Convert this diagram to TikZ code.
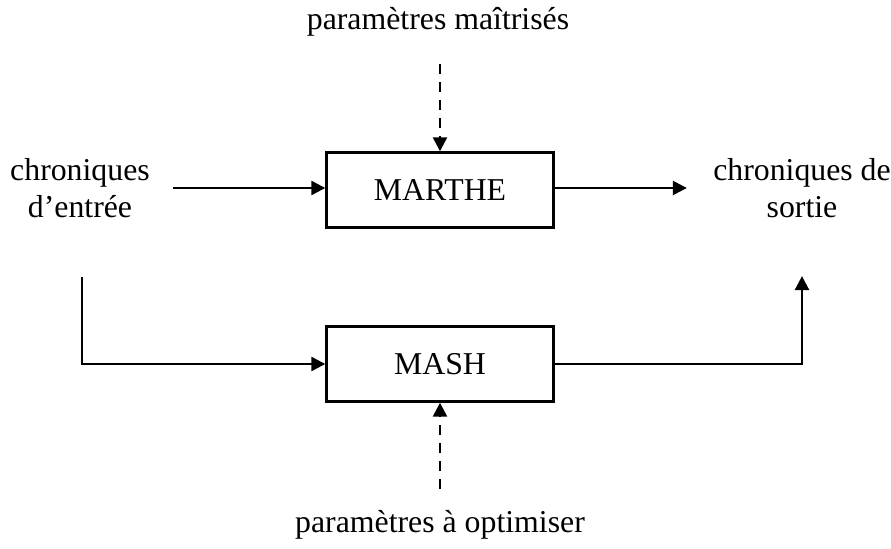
\documentclass[tikz,border=0pt]{standalone}
\usepackage{fontspec}
\setmainfont{Liberation Serif}
\usetikzlibrary{arrows.meta,positioning}

\begin{document}
\begin{tikzpicture}[
    x=0.5pt, y=-0.5pt,
    font=\fontsize{15.9}{18.5}\selectfont,
    model/.style={draw, line width=1.2pt, minimum width=113.5pt, minimum height=37.5pt, inner sep=0pt},
    txt/.style={align=center, inner sep=0pt},
    arrow/.style={-{Triangle[length=7pt,width=7pt]}, line width=1.2pt},
    dashedarrow/.style={arrow, dash pattern=on 5pt off 4pt}
]
\useasboundingbox (0,0) rectangle (891,549);

% Modeles
\node[model] (marthe) at (440,190) {MARTHE};
\node[model] (mash) at (440,364) {MASH};

% Chroniques et parametres
\node[txt] (entree) at (80,188) {chroniques\\d'entrée};
\node[txt] (sortie) at (802,188) {chroniques de\\sortie};
\node[txt] (maitrise) at (438,22) {paramètres maîtrisés};
\node[txt] (optim) at (440,525) {paramètres à optimiser};

\draw[arrow, shorten <=11.5pt] (entree.east) -- (entree.east -| marthe.west);
\draw[arrow, shorten >=13pt] (sortie.west -| marthe.east) -- (sortie.west);
\draw[dashedarrow, shorten <=13.5pt] (maitrise.south -| marthe.north) -- (marthe.north);
\draw[arrow, shorten <=29.5pt] ([xshift=1pt]entree.south) |- (mash.west);
\draw[arrow, shorten >=29pt] (mash.east) -| (sortie.south);
\draw[dashedarrow, shorten <=10.5pt] (optim.north -| mash.south) -- (mash.south);

\end{tikzpicture}
\end{document}
